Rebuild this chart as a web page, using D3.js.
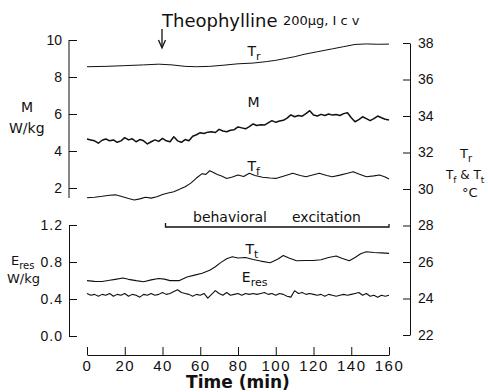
<!DOCTYPE html>
<html>
<head>
<meta charset="utf-8">
<script src="https://cdn.jsdelivr.net/npm/d3@7"></script>
<style>
  body { margin: 0; background: #fff; }
  svg { display: block; font-family: "DejaVu Sans", sans-serif; }
  .axis text { font-size: 14px; fill: #111; }
  .axis path, .axis line { stroke: #111; stroke-width: 1; }
</style>
</head>
<body>
<svg id="chart" width="488" height="392"></svg>
<script>
// time ticks (min)
const timeTicks = [0, 20, 40, 60, 80, 100, 120, 140, 160];
const mTicks = [2, 4, 6, 8, 10];
const eTicks = [0.0, 0.4, 0.8, 1.2];
const tempTicks = [22, 24, 26, 28, 30, 32, 34, 36, 38];

// [time, value]
const trData = [[0,36.70],[10,36.72],[20,36.76],[30,36.80],[38,36.84],[45,36.80],[52,36.72],[58,36.70],[65,36.72],[72,36.78],[80,36.86],[88,36.90],[95,36.98],[100,37.05],[105,37.15],[110,37.25],[115,37.38],[122,37.52],[130,37.68],[136,37.80],[142,37.92],[148,37.95],[154,37.93],[160,37.94]];

const mData = [[0,4.65],[2,4.60],[4,4.55],[6,4.42],[8,4.58],[10,4.65],[12,4.55],[14,4.60],[16,4.47],[18,4.55],[20,4.72],[22,4.60],[24,4.66],[26,4.50],[28,4.62],[30,4.55],[32,4.38],[34,4.50],[36,4.60],[38,4.52],[40,4.68],[42,4.55],[44,4.50],[46,4.77],[48,4.55],[50,4.47],[52,4.62],[54,4.55],[56,4.80],[58,4.88],[60,4.99],[62,4.95],[64,5.02],[66,5.04],[68,5.00],[70,5.17],[72,5.08],[74,5.04],[76,5.12],[78,5.15],[80,5.30],[82,5.25],[84,5.20],[86,5.32],[88,5.46],[90,5.38],[92,5.42],[94,5.40],[96,5.52],[98,5.64],[100,5.55],[102,5.62],[104,5.66],[106,5.78],[108,5.95],[110,5.85],[112,5.92],[114,5.88],[116,6.02],[118,6.18],[120,5.95],[122,5.89],[124,5.98],[126,5.92],[128,6.00],[130,5.94],[132,5.97],[134,5.92],[136,6.02],[138,6.07],[140,5.80],[142,5.58],[144,5.70],[146,5.85],[148,5.75],[150,5.64],[152,5.75],[154,5.89],[156,5.80],[158,5.72],[160,5.68]];

const tfData = [[0,29.52],[4,29.55],[8,29.60],[12,29.66],[15,29.68],[18,29.60],[22,29.48],[25,29.40],[28,29.46],[31,29.55],[34,29.50],[37,29.58],[40,29.70],[43,29.78],[46,29.85],[49,29.98],[52,30.12],[55,30.32],[58,30.60],[61,30.84],[63,30.80],[65,31.00],[67,30.90],[69,30.80],[71,30.72],[74,30.58],[77,30.66],[80,30.77],[83,30.68],[86,30.86],[89,30.74],[93,30.64],[97,30.60],[100,30.58],[104,30.70],[109,30.86],[113,30.74],[116,30.67],[120,30.78],[123,30.86],[127,30.74],[130,30.67],[134,30.76],[138,30.86],[141,30.95],[144,30.82],[148,30.67],[152,30.72],[155,30.77],[158,30.66],[160,30.55]];

const ttData = [[0,24.98],[4,24.94],[8,24.93],[12,25.00],[15,25.05],[19,25.12],[22,25.05],[26,24.98],[30,24.92],[34,25.02],[38,25.10],[41,25.06],[44,24.98],[49,24.98],[53,25.18],[57,25.28],[61,25.38],[65,25.55],[68,25.74],[71,25.98],[74,26.18],[77,26.29],[80,26.22],[84,26.25],[88,26.14],[92,26.05],[97,25.96],[101,26.15],[104,26.36],[107,26.22],[111,26.07],[116,26.08],[120,26.08],[124,26.12],[128,26.25],[132,26.33],[135,26.20],[139,26.07],[142,26.25],[145,26.45],[148,26.56],[152,26.52],[156,26.50],[160,26.47]];

const eresData = [[0,0.46],[2,0.44],[4,0.45],[6,0.43],[8,0.45],[10,0.44],[12,0.46],[14,0.43],[16,0.45],[18,0.44],[20,0.46],[22,0.43],[24,0.45],[26,0.44],[28,0.42],[30,0.45],[32,0.44],[34,0.46],[36,0.44],[38,0.45],[40,0.47],[42,0.45],[44,0.46],[46,0.48],[48,0.50],[50,0.47],[52,0.46],[54,0.45],[56,0.43],[58,0.45],[60,0.44],[62,0.46],[64,0.41],[66,0.45],[68,0.49],[70,0.46],[72,0.44],[74,0.47],[76,0.44],[78,0.45],[80,0.46],[82,0.44],[84,0.46],[86,0.45],[88,0.46],[90,0.45],[92,0.46],[94,0.47],[96,0.45],[98,0.46],[100,0.44],[102,0.46],[104,0.45],[106,0.43],[108,0.42],[110,0.49],[112,0.46],[114,0.47],[116,0.45],[118,0.46],[120,0.45],[122,0.44],[124,0.45],[126,0.43],[128,0.45],[130,0.44],[132,0.43],[134,0.44],[136,0.45],[138,0.44],[140,0.45],[142,0.46],[144,0.47],[146,0.44],[148,0.46],[150,0.43],[152,0.44],[154,0.42],[156,0.44],[158,0.43],[160,0.44]];

// behavioral excitation period (min)
const excitation = [40, 160];
const injectionTime = 40;

const svg = d3.select("#chart");

const x = d3.scaleLinear().domain([0, 160]).range([87, 389]);
const yM = d3.scaleLinear().domain([2, 10]).range([188, 40]);
const yE = d3.scaleLinear().domain([0, 1.2]).range([336, 225]);
const yT = d3.scaleLinear().domain([22, 38]).range([335, 43]);

const leftX = 69, rightX = 410, bottomY = 355;

// left upper axis (M)
const axM = svg.append("g").attr("class", "axis")
  .attr("transform", `translate(${leftX},0)`)
  .call(d3.axisLeft(yM).tickValues(mTicks).tickSizeInner(-8).tickSizeOuter(0).tickPadding(7));
axM.select(".domain").remove();
axM.append("line").attr("x1", 0).attr("x2", 0).attr("y1", yM(10)).attr("y2", 198);

// left lower axis (Eres)
const axE = svg.append("g").attr("class", "axis")
  .attr("transform", `translate(${leftX},0)`)
  .call(d3.axisLeft(yE).tickValues(eTicks).tickFormat(d3.format(".1f"))
    .tickSizeInner(-8).tickSizeOuter(0).tickPadding(6));
axE.selectAll("text").attr("letter-spacing", "1px");

// right axis (temperature)
svg.append("g").attr("class", "axis")
  .attr("transform", `translate(${rightX},0)`)
  .call(d3.axisRight(yT).tickValues(tempTicks).tickSizeInner(-7).tickSizeOuter(0).tickPadding(8));

// time axis
const axX = svg.append("g").attr("class", "axis")
  .attr("transform", `translate(0,${bottomY})`)
  .call(d3.axisBottom(x).tickValues(timeTicks).tickSizeInner(-8).tickSizeOuter(0).tickPadding(5));
axX.selectAll("text").attr("letter-spacing", "1.5px").style("font-size", "15px");

// traces
const traces = [
  { data: trData, y: yT, w: 1 },
  { data: mData, y: yM, w: 1.5 },
  { data: tfData, y: yT, w: 1.1 },
  { data: ttData, y: yT, w: 1.1 },
  { data: eresData, y: yE, w: 1.1 }
];
traces.forEach(function (s) {
  svg.append("path")
    .datum(s.data)
    .attr("fill", "none")
    .attr("stroke", "#111")
    .attr("stroke-width", s.w)
    .attr("stroke-linejoin", "round")
    .attr("d", d3.line().x(d => x(d[0])).y(d => s.y(d[1])));
});

// text helpers
function label(px, py, main, sub, size) {
  const s = size || 14;
  const t = svg.append("text").attr("x", px).attr("y", py)
    .style("font-size", s + "px").attr("fill", "#111");
  t.append("tspan").text(main);
  if (sub) t.append("tspan").attr("dy", 4).style("font-size", (s - 3) + "px").text(sub);
  return t;
}

// curve labels
label(x(85), 56, "T", "r");
label(x(85), 107, "M");
label(x(85), 171, "T", "f");
label(x(84), 254, "T", "t");
label(x(82), 282, "E", "res");

// axis titles
label(21, 112, "M");
label(9, 133, "W/kg");
label(11, 265, "E", "res", 13);
label(7, 283, "W/kg", null, 13);
label(460, 158, "T", "r", 13);
const tf = label(446, 179, "T", "f", 12);
tf.append("tspan").attr("dy", -4).text(" & T");
tf.append("tspan").attr("dy", 4).style("font-size", "9px").text("t");
label(462, 197, "°C", null, 13);

svg.append("text").attr("x", 238).attr("y", 388).attr("text-anchor", "middle")
  .style("font-size", "17px").style("font-weight", "bold").attr("fill", "#111")
  .text("Time (min)");

// title and injection arrow
svg.append("text").attr("x", 162).attr("y", 27)
  .style("font-size", "18px").attr("fill", "#111").text("Theophylline");
svg.append("text").attr("x", 283).attr("y", 25)
  .style("font-size", "13px").attr("fill", "#111").text("200μg, I c v");

const ax = x(injectionTime) - 0.5;
svg.append("line").attr("x1", ax).attr("x2", ax).attr("y1", 29).attr("y2", 47)
  .attr("stroke", "#111").attr("stroke-width", 1.3);
svg.append("path")
  .attr("d", `M${ax - 3.5},40 L${ax},48 L${ax + 3.5},40`)
  .attr("fill", "none").attr("stroke", "#111").attr("stroke-width", 1.3);

// behavioral excitation bracket
const by = 227;
svg.append("path")
  .attr("d", `M${x(excitation[0]) + 3},${by - 4} V${by} H${x(excitation[1])} V${by - 3}`)
  .attr("fill", "none").attr("stroke", "#111").attr("stroke-width", 1.3);
svg.append("text").attr("x", 193).attr("y", 222).style("font-size", "14px")
  .attr("fill", "#111").text("behavioral");
svg.append("text").attr("x", 292).attr("y", 222).style("font-size", "14px")
  .attr("fill", "#111").text("excitation");
</script>
</body>
</html>
